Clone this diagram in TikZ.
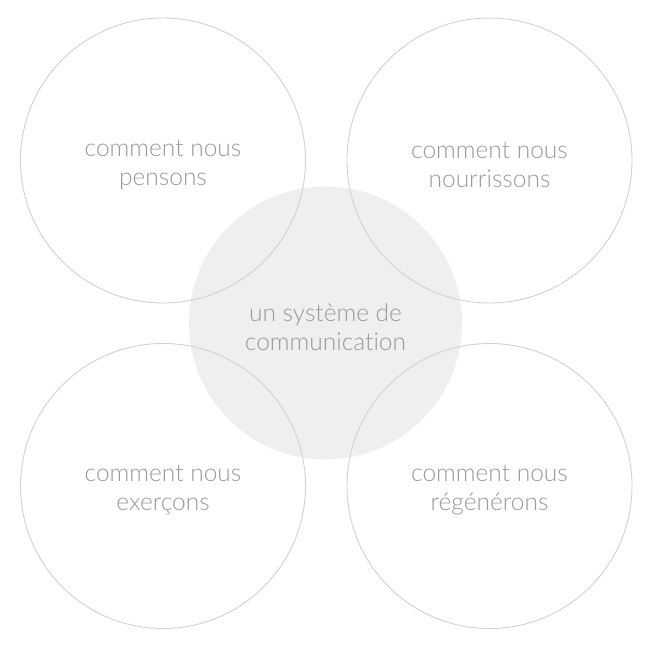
\documentclass[tikz,border=0pt]{standalone}
\usepackage{fontspec}
\setmainfont{Lato}[UprightFont=* Light,Ligatures=NoCommon]
\definecolor{ringc}{HTML}{D2D2D2}
\definecolor{fillc}{HTML}{EFEFEF}
\definecolor{txtc}{HTML}{9A9A9A}
\begin{document}
\begin{tikzpicture}[x=1pt,y=-1pt,
  ring/.style={circle,draw=ringc,line width=0.9pt,minimum size=285pt,inner sep=0pt},
  hub/.style={circle,fill=fillc,minimum size=273pt,inner sep=0pt},
  lbl/.style={text=txtc,font=\fontsize{24.5}{28.5}\selectfont,align=center}]
\useasboundingbox[fill=white] (0,0) rectangle (650,648);
\node[hub] (hub) at (325.5,323) {};
\node[ring] (tl) at (163,160.5) {};
\node[ring] (tr) at (489.5,160.5) {};
\node[ring] (bl) at (163,486) {};
\node[ring] (br) at (489.5,486) {};
\node[lbl] (tlt) at (163,165) {comment nous\\pensons};
\node[lbl] (trt) at (489.5,165) {comment nous\\nourrissons};
\node[lbl] (blt) at (163,490) {comment nous\\exerçons};
\node[lbl] (brt) at (489.5,490) {comment nous\\régénérons};
\node[lbl] (hubt) at (325.5,327) {un système de\\communication};
\end{tikzpicture}
\end{document}
